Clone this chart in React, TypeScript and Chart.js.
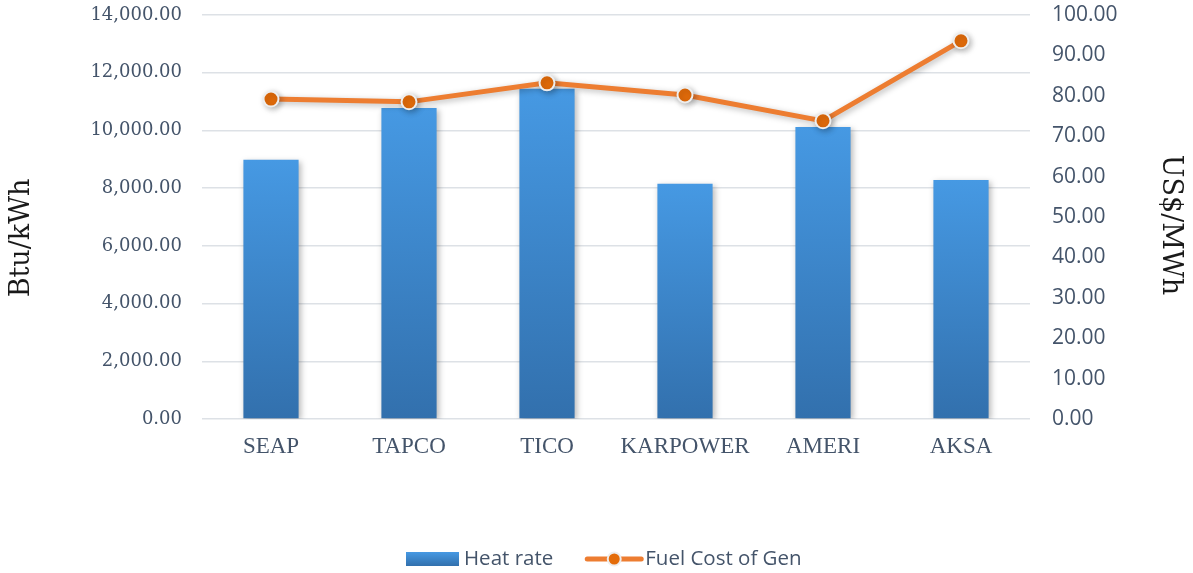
import React, { useEffect, useRef } from "react";
import { Chart, registerables } from "chart.js";

Chart.register(...registerables);

const categories = ["SEAP", "TAPCO", "TICO", "KARPOWER", "AMERI", "AKSA"];
const heatRate = [8980, 10780, 11440, 8150, 10120, 8280];
const fuelCost = [79.2, 78.5, 83.2, 80.2, 73.8, 93.6];
const leftTicks = { min: 0, max: 14000, step: 2000 };
const rightTicks = { min: 0, max: 100, step: 10 };
const seriesNames = ["Heat rate", "Fuel Cost of Gen"];
const axisTitles = ["Btu/kWh", "US$/MWh"];

const BAR_TOP = "#4699e3";
const BAR_BOTTOM = "#3270ad";
const LINE = "#ed7d31";
const MARKER = "#e46c0a";
const SLATE = "#44546a";

const fmt = (v: number) =>
  Number(v).toLocaleString("en-US", { minimumFractionDigits: 2, maximumFractionDigits: 2 });

const shadowPlugin = {
  id: "shadow",
  beforeDatasetDraw(chart: any) {
    const ctx = chart.ctx;
    ctx.save();
    ctx.shadowColor = "rgba(0,0,0,0.28)";
    ctx.shadowBlur = 6;
    ctx.shadowOffsetX = 2;
    ctx.shadowOffsetY = 2;
  },
  afterDatasetDraw(chart: any) {
    chart.ctx.restore();
  },
};

const titlePlugin = {
  id: "axisTitles",
  afterDraw(chart: any) {
    const ctx = chart.ctx;
    ctx.save();
    ctx.font = "27px 'DejaVu Serif'";
    ctx.fillStyle = "#1a1a1a";
    ctx.textAlign = "center";
    ctx.textBaseline = "middle";
    ctx.translate(22, 238);
    ctx.rotate(-Math.PI / 2);
    ctx.fillText(axisTitles[0], 0, 0);
    ctx.restore();
    ctx.save();
    ctx.font = "27px 'DejaVu Serif'";
    ctx.fillStyle = "#1a1a1a";
    ctx.textAlign = "center";
    ctx.textBaseline = "middle";
    ctx.translate(1170, 225);
    ctx.rotate(Math.PI / 2);
    ctx.fillText(axisTitles[1], 0, 0);
    ctx.restore();
  },
};

const legendPlugin = {
  id: "customLegend",
  afterDraw(chart: any) {
    const ctx = chart.ctx;
    ctx.save();
    ctx.font = "20.5px 'Open Sans'";
    ctx.textBaseline = "middle";
    const y = 559;
    const boxW = 53;
    const lineW = 58;
    const gap = 5;
    const between = 32;
    const w1 = ctx.measureText(seriesNames[0]).width;
    let x = 406;
    const g = ctx.createLinearGradient(0, y - 7, 0, y + 7);
    g.addColorStop(0, BAR_TOP);
    g.addColorStop(1, BAR_BOTTOM);
    ctx.fillStyle = g;
    ctx.fillRect(x, y - 7, boxW, 14);
    x += boxW + gap;
    ctx.fillStyle = SLATE;
    ctx.textAlign = "left";
    ctx.fillText(seriesNames[0], x, y);
    x += w1 + between;
    ctx.strokeStyle = LINE;
    ctx.lineWidth = 5;
    ctx.lineCap = "round";
    ctx.beginPath();
    ctx.moveTo(x + 2, y);
    ctx.lineTo(x + lineW - 2, y);
    ctx.stroke();
    ctx.beginPath();
    ctx.arc(x + lineW / 2, y, 6.5, 0, Math.PI * 2);
    ctx.fillStyle = MARKER;
    ctx.fill();
    ctx.lineWidth = 2;
    ctx.strokeStyle = "#eeeeee";
    ctx.stroke();
    x += lineW + 2;
    ctx.fillStyle = SLATE;
    ctx.fillText(seriesNames[1], x, y);
    ctx.restore();
  },
};

export default function App() {
  const ref = useRef<HTMLCanvasElement | null>(null);
  useEffect(() => {
    document.body.style.margin = "0";
    const canvas = ref.current;
    if (!canvas) return;
    const chart = new Chart(canvas, {
      type: "bar",
      data: {
        labels: categories,
        datasets: [
          {
            type: "line",
            label: seriesNames[1],
            data: fuelCost,
            yAxisID: "y1",
            borderColor: LINE,
            borderWidth: 5,
            pointRadius: 7.5,
            pointBorderWidth: 2,
            pointBackgroundColor: MARKER,
            pointBorderColor: "#eeeeee",
            tension: 0,
            order: 0,
          } as any,
          {
            type: "bar",
            label: seriesNames[0],
            data: heatRate,
            yAxisID: "y",
            barPercentage: 0.4,
            categoryPercentage: 1,
            order: 1,
            backgroundColor: (c: any) => {
              const ch = c.chart;
              const ys = ch.scales?.y;
              if (!ys || c.parsed == null || c.parsed.y == null) return BAR_TOP;
              const top = ys.getPixelForValue(c.parsed.y);
              const bottom = ys.getPixelForValue(0);
              if (!isFinite(top) || !isFinite(bottom) || top === bottom) return BAR_TOP;
              const g = ch.ctx.createLinearGradient(0, top, 0, bottom);
              g.addColorStop(0, BAR_TOP);
              g.addColorStop(1, BAR_BOTTOM);
              return g;
            },
          },
        ],
      },
      options: {
        animation: false,
        responsive: false,
        maintainAspectRatio: false,
        layout: { padding: { top: 15, bottom: 0, left: 0, right: 0 } },
        plugins: {
          legend: { display: false },
          tooltip: { enabled: false },
        },
        scales: {
          x: {
            grid: { display: false, drawTicks: false },
            border: { display: false },
            ticks: {
              color: SLATE,
              font: { family: "'Liberation Serif'", size: 23 },
              padding: 14,
            },
            afterFit: (s: any) => {
              s.height = 154;
              s.paddingLeft = 0;
              s.paddingRight = 0;
            },
          },
          y: {
            position: "left",
            min: leftTicks.min,
            max: leftTicks.max,
            ticks: {
              stepSize: leftTicks.step,
              color: SLATE,
              font: { family: "'DejaVu Serif'", size: 18, lineHeight: 1 },
              padding: 20,
              callback: (v: any) => fmt(v),
            },
            grid: { color: "#dde1e6", lineWidth: 1.5, drawTicks: false },
            border: { display: false },
            afterFit: (s: any) => {
              s.width = 202;
              s.paddingTop = 0;
              s.paddingBottom = 0;
            },
          },
          y1: {
            position: "right",
            min: rightTicks.min,
            max: rightTicks.max,
            ticks: {
              stepSize: rightTicks.step,
              color: SLATE,
              font: { family: "'Open Sans'", size: 21, lineHeight: 1 },
              padding: 22,
              callback: (v: any) => fmt(v),
            },
            grid: { display: false, drawTicks: false },
            border: { display: false },
            afterFit: (s: any) => {
              s.width = 163;
              s.paddingTop = 0;
              s.paddingBottom = 0;
            },
          },
        },
      },
      plugins: [shadowPlugin, titlePlugin, legendPlugin],
    });
    return () => chart.destroy();
  }, []);
  return (
    <div style={{ width: 1193, height: 573 }}>
      <canvas ref={ref} width={1193} height={573} style={{ display: "block" }} />
    </div>
  );
}
